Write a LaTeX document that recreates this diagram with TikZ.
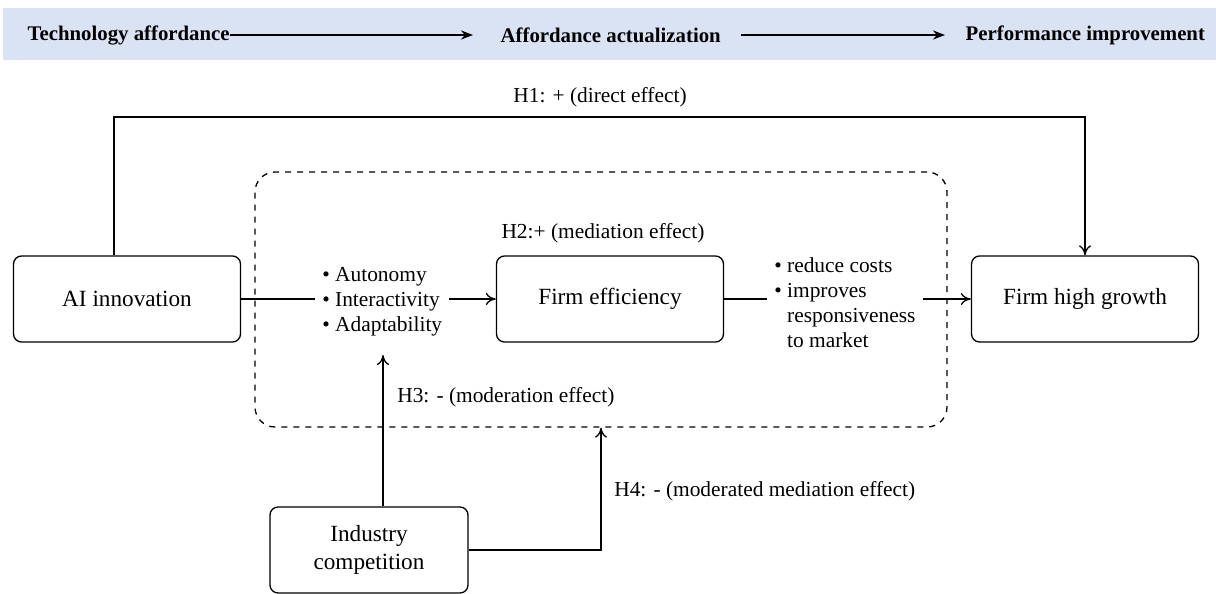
\documentclass[tikz,border=0pt]{standalone}
\usepackage{fontspec}
\setmainfont{Liberation Serif}
\usetikzlibrary{arrows.meta}
\definecolor{bandblue}{HTML}{DAE3F3}
\tikzset{
  box/.style={draw,rounded corners=4pt,minimum width=113.5pt,minimum height=43pt,align=center,font=\fontsize{11.6}{14}\selectfont},
  lab/.style={font=\fontsize{10.7}{12.5}\selectfont},
  head/.style={font=\fontsize{10.4}{12}\selectfont\bfseries,inner ysep=2pt}
}
\begin{document}
\begin{tikzpicture}[x=0.5pt,y=-0.5pt,line width=0.65pt,>={To[length=5pt,width=6pt]}]
    \useasboundingbox (0,0) rectangle (1216,594);
    %% header band
    \fill[bandblue] (3,8) rectangle (1216,60);
    \node[head,anchor=west,inner xsep=0pt] (T1) at (27,35) {Technology affordance};
    \node[head,anchor=west,inner xsep=10pt] (T2) at (480,35) {Affordance actualization};
    \node[head,anchor=west,inner xsep=10pt] (T3) at (945,35) {Performance improvement};
    \draw[-{Stealth[length=6pt,width=4.5pt]},line width=0.9pt,shorten >=3.5pt] (T1) -- (T2);
    \draw[-{Stealth[length=6pt,width=4.5pt]},line width=0.9pt] (T2) -- (T3);
    %% dashed mediation frame
    \node[draw,dashed,rounded corners=10pt,minimum width=346pt,minimum height=127.5pt] (D) at (601,299.5) {};
    %% boxes
    \node[box] (AI) at (127,299) {AI innovation};
    \node[box] (FE) at (610,299) {Firm efficiency};
    \node[box] (FG) at (1085,299) {Firm high growth};
    \node[box,minimum width=99pt] (IC) at (369,550) {Industry\\competition};
    %% bullet lists
    \node[lab,anchor=west,align=left] (L1) at (315,302) {\textbullet\ Autonomy\\\textbullet\ Interactivity\\\textbullet\ Adaptability};
    \node[lab,anchor=west] (L2) at (767,305) {\renewcommand{\arraystretch}{1}\begin{tabular}{@{}l@{\ }l@{}}
      \textbullet & reduce costs\\
      \textbullet & improves\\
       & responsiveness\\
       & to market
    \end{tabular}};
    %% paths
    \draw (AI.east) -- (AI.east -| L1.west);
    \draw[->] (FE.west -| L1.east) -- (FE.west);
    \draw (FE.east) -- (FE.east -| L2.west);
    \draw[->] (FG.west -| L2.east) -- (FG.west);
    \coordinate (top) at (0,117);
    \draw[->] ([xshift=-6.5pt]AI.north) |- (top -| FG.north) -- (FG.north);
    \draw[->] ([xshift=7pt]IC.north) -- ([xshift=7pt]IC.north |- 0,355);
    \draw[->] (IC.east) -| (D.south);
    %% labels
    \node[lab] at (600,97) {H1: + (direct effect)};
    \node[lab] at (603,233) {H2:+ (mediation effect)};
    \node[lab,anchor=west] at (390,397) {H3: - (moderation effect)};
    \node[lab,anchor=west] at (607,491) {H4: - (moderated mediation effect)};
\end{tikzpicture}
\end{document}
